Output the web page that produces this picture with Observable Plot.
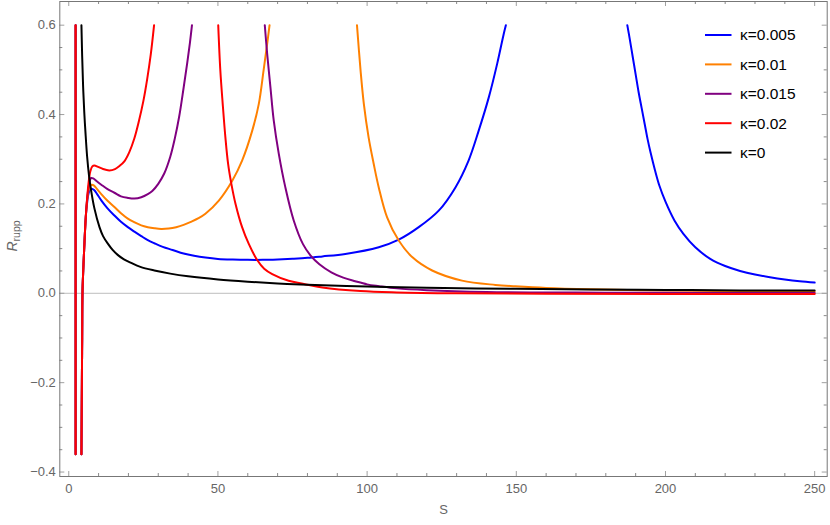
<!DOCTYPE html>
<html><head><meta charset="utf-8">
<script src="https://cdn.jsdelivr.net/npm/d3@7"></script>
<script src="https://cdn.jsdelivr.net/npm/@observablehq/plot@0.6"></script>
<style>body{margin:0;background:#fff;}</style>
</head><body><div id="chart"></div>
<script>
// ---- data ----
const kLabels = ["κ=0.005", "κ=0.01", "κ=0.015", "κ=0.02", "κ=0"];
const colors = ["#0000ff", "#ff8000", "#800080", "#ff0000", "#000000"];

const xTickLabels = [0, 50, 100, 150, 200, 250];
const yTickLabels = [-0.4, -0.2, 0, 0.2, 0.4, 0.6];

// κ = 0.005
const blueS = [2.3, 2.3, null,
  4.25, 4.4, 4.5, 4.6, 4.85, 5.15, 5.7, 6.2, 6.7, 7.2, 7.7, 8.5, 9.5, 10.9, 13, 15.3, 17.5, 19.8, 22, 24.3, 26.5, 28.7, 31.5, 34.8, 38.5, 42, 45.8, 50, 55, 60, 65, 70, 75, 80, 85, 92.7, 103.9, 110.6, 117.3, 124, 129.6, 134, 137.4, 140.8, 143.6, 145.8, 146.5, null,
  187.2, 188, 189, 190, 191, 192, 193, 194, 195, 196.5, 198, 200, 203, 206, 210, 215, 220, 225, 230, 235, 240, 245, 250];
const blueR = [0.6, -0.36, null,
  -0.36, -0.2, -0.1, 0, 0.05, 0.096, 0.17, 0.205, 0.225, 0.232, 0.234, 0.231, 0.222, 0.208, 0.19, 0.174, 0.16, 0.148, 0.138, 0.128, 0.119, 0.112, 0.104, 0.097, 0.089, 0.084, 0.08, 0.077, 0.0755, 0.0748, 0.0748, 0.0758, 0.0773, 0.0793, 0.0825, 0.088, 0.103, 0.12, 0.148, 0.185, 0.237, 0.297, 0.364, 0.439, 0.514, 0.581, 0.6, null,
  0.6, 0.57, 0.53, 0.49, 0.45, 0.415, 0.38, 0.345, 0.315, 0.275, 0.24, 0.205, 0.163, 0.133, 0.103, 0.077, 0.061, 0.05, 0.042, 0.036, 0.031, 0.027, 0.024];

// κ = 0.01
const orangeS = [2.3, 2.3, null,
  4.25, 4.4, 4.5, 4.6, 4.85, 5.15, 5.7, 6.2, 6.7, 7.2, 7.7, 8.5, 9.5, 10.9, 13, 15.3, 17.5, 19.8, 22, 24.3, 26.5, 28.7, 31, 33.5, 36, 38.5, 41, 43.5, 45.8, 50.3, 54.8, 58.1, 61.5, 63.7, 65.3, 66.5, 67.3, null,
  96.6, 97.8, 98.9, 100.5, 102.2, 103.9, 106.7, 110.6, 115.1, 121.8, 131.8, 143, 149.7, 160, 175, 200, 225, 250];
const orangeR = [0.6, -0.36, null,
  -0.36, -0.2, -0.1, 0, 0.05, 0.096, 0.17, 0.21, 0.232, 0.241, 0.243, 0.241, 0.233, 0.222, 0.207, 0.193, 0.179, 0.167, 0.159, 0.152, 0.148, 0.1455, 0.144, 0.145, 0.148, 0.153, 0.16, 0.168, 0.178, 0.2075, 0.252, 0.297, 0.364, 0.424, 0.499, 0.558, 0.6, null,
  0.6, 0.499, 0.424, 0.349, 0.29, 0.237, 0.17, 0.118, 0.081, 0.051, 0.0284, 0.0188, 0.0157, 0.012, 0.009, 0.006, 0.0045, 0.0035];

// κ = 0.015
const purpleS = [2.3, 2.3, null,
  4.25, 4.4, 4.5, 4.6, 4.85, 5.15, 5.7, 6.2, 6.7, 7.1, 7.5, 8.2, 9.5, 10.9, 13, 15.3, 17.5, 19.8, 22, 24.3, 26.5, 28, 30, 32, 34, 35.5, 37, 38.5, 39.7, 40.6, 41.3, null,
  65.7, 66.5, 67.6, 68.7, 70.4, 72.6, 75.4, 78.5, 81, 84, 88, 92, 96, 100, 104, 110, 120, 140, 170, 200, 250];
const purpleR = [0.6, -0.36, null,
  -0.36, -0.2, -0.1, 0, 0.05, 0.096, 0.17, 0.215, 0.24, 0.253, 0.258, 0.257, 0.25, 0.243, 0.233, 0.225, 0.217, 0.2135, 0.212, 0.215, 0.222, 0.229, 0.245, 0.268, 0.305, 0.345, 0.395, 0.46, 0.515, 0.56, 0.6, null,
  0.6, 0.536, 0.461, 0.387, 0.312, 0.237, 0.163, 0.11, 0.085, 0.065, 0.047, 0.035, 0.027, 0.02, 0.016, 0.011, 0.007, 0.003, 0.0015, 0.001, 0.0005];

// κ = 0.02
const redS = [2.3, 2.3, null,
  4.25, 4.4, 4.5, 4.6, 4.85, 5.15, 5.7, 6.2, 6.6, 7.2, 7.9, 8.6, 9.8, 11.5, 13.6, 15.5, 17, 18.7, 20.3, 22, 23.5, 25, 26.3, 27.5, 28.6, null,
  50.1, 50.8, 51.6, 52.5, 53.4, 54.5, 55.9, 58.1, 60.3, 63.1, 65.5, 68.2, 73.7, 78.8, 85, 97.8, 110, 130, 160, 200, 250];
const redR = [0.6, -0.36, null,
  -0.36, -0.2, -0.1, 0, 0.05, 0.096, 0.17, 0.215, 0.245, 0.272, 0.284, 0.286, 0.283, 0.278, 0.275, 0.278, 0.285, 0.296, 0.316, 0.347, 0.385, 0.43, 0.48, 0.535, 0.6, null,
  0.6, 0.499, 0.424, 0.349, 0.29, 0.245, 0.2, 0.148, 0.111, 0.075, 0.055, 0.043, 0.028, 0.021, 0.013, 0.005, 0.002, 0, -0.001, -0.0015, -0.0015];

// κ = 0
const blackS = [4.25, 4.5, 4.8, 5.2, 5.6, 6.17, 6.8, 7.5, 8.6, 10.3, 11.5, 13.1, 14.7, 16.4, 18.5, 20.9, 24, 28.7, 34, 40, 50, 60, 70, 80, 100, 120, 150, 175, 200, 225, 250];
const blackR = [0.6, 0.53, 0.465, 0.405, 0.36, 0.305, 0.263, 0.23, 0.19, 0.148, 0.128, 0.111, 0.097, 0.086, 0.076, 0.068, 0.059, 0.051, 0.044, 0.038, 0.031, 0.026, 0.022, 0.019, 0.015, 0.0125, 0.01, 0.0085, 0.0075, 0.0065, 0.006];

const seriesS = [blueS, orangeS, purpleS, redS, blackS];
const seriesR = [blueR, orangeR, purpleR, redR, blackR];

// ---- layout ----
const W = 830, H = 525;
const mL = 59.3, mR = 3.3, mT = 1, mB = 49;
const innerW = W - mL - mR, innerH = H - mT - mB;
const xDomain = [-3.0, 254.2];
const yDomain = [-0.41, 0.653];

const xMinor = d3.range(0, 251, 10).filter(v => v % 50 !== 0);
const yMinorAll = d3.range(-8, 13).map(i => +(i * 0.05).toFixed(2));
const yMinor = yMinorAll.filter(v => !yTickLabels.some(t => Math.abs(t - v) < 1e-9));

const lineMarks = seriesS.map((S, k) => {
  const rows = S.map((s, i) => ({S: s, R: seriesR[k][i]}));
  return Plot.line(rows, {x: "S", y: "R", stroke: colors[k], strokeWidth: 2, curve: "catmull-rom", clip: true});
});

const tickCol = "#a0a0a0", minorCol = "#8a8a8a";
const plot = Plot.plot({
  width: W, height: H,
  marginLeft: mL, marginRight: mR, marginTop: mT, marginBottom: mB,
  x: {domain: xDomain},
  y: {domain: yDomain},
  style: {fontFamily: '"Liberation Sans", Arial, sans-serif', fontSize: "13px", color: "#666", background: "#fff"},
  marks: [
    Plot.ruleY([0], {stroke: "#bdbdbd", strokeWidth: 1}),
    ...lineMarks,
    Plot.tickX(xTickLabels, {x: d => d, insetTop: innerH - 5, stroke: tickCol}),
    Plot.tickX(xMinor, {x: d => d, insetTop: innerH - 3, stroke: minorCol}),
    Plot.tickX(xTickLabels, {x: d => d, insetBottom: innerH - 5, stroke: tickCol}),
    Plot.tickX(xMinor, {x: d => d, insetBottom: innerH - 3, stroke: minorCol}),
    Plot.tickY(yTickLabels, {y: d => d, insetRight: innerW - 5, stroke: tickCol}),
    Plot.tickY(yMinor, {y: d => d, insetRight: innerW - 3, stroke: minorCol}),
    Plot.tickY(yTickLabels, {y: d => d, insetLeft: innerW - 5, stroke: tickCol}),
    Plot.tickY(yMinor, {y: d => d, insetLeft: innerW - 3, stroke: minorCol}),
    Plot.frame({stroke: "#777", strokeWidth: 1}),
    Plot.axisX({ticks: xTickLabels, tickSize: 0, tickPadding: 7, label: null, fontSize: 13}),
    Plot.axisY({ticks: yTickLabels, tickSize: 0, tickPadding: 4, label: null, fontSize: 13, tickFormat: d3.format(".1f")}),
    Plot.text(["S"], {frameAnchor: "bottom", dy: 37, fontSize: 13, fill: "#666"})
  ]
});

const svg = d3.select(plot);
// y-axis label R_rupp
const yl = svg.append("text")
  .attr("transform", "translate(17,236) rotate(-90)")
  .attr("text-anchor", "middle")
  .attr("fill", "#666")
  .style("font-size", "14px");
yl.append("tspan").attr("font-style", "italic").text("R");
yl.append("tspan").attr("dy", 3).style("font-size", "10.5px").text("rupp");

// legend
const lg = svg.append("g");
kLabels.forEach((lab, i) => {
  const y = 35 + i * 29.4;
  lg.append("line").attr("x1", 705).attr("x2", 731.5).attr("y1", y).attr("y2", y)
    .attr("stroke", colors[i]).attr("stroke-width", 2);
  lg.append("text").attr("x", 740).attr("y", y).attr("dy", "0.35em")
    .attr("text-anchor", "start")
    .attr("fill", "#000").style("font-size", "15.5px").text(lab);
});

document.getElementById("chart").appendChild(plot);
</script></body></html>
